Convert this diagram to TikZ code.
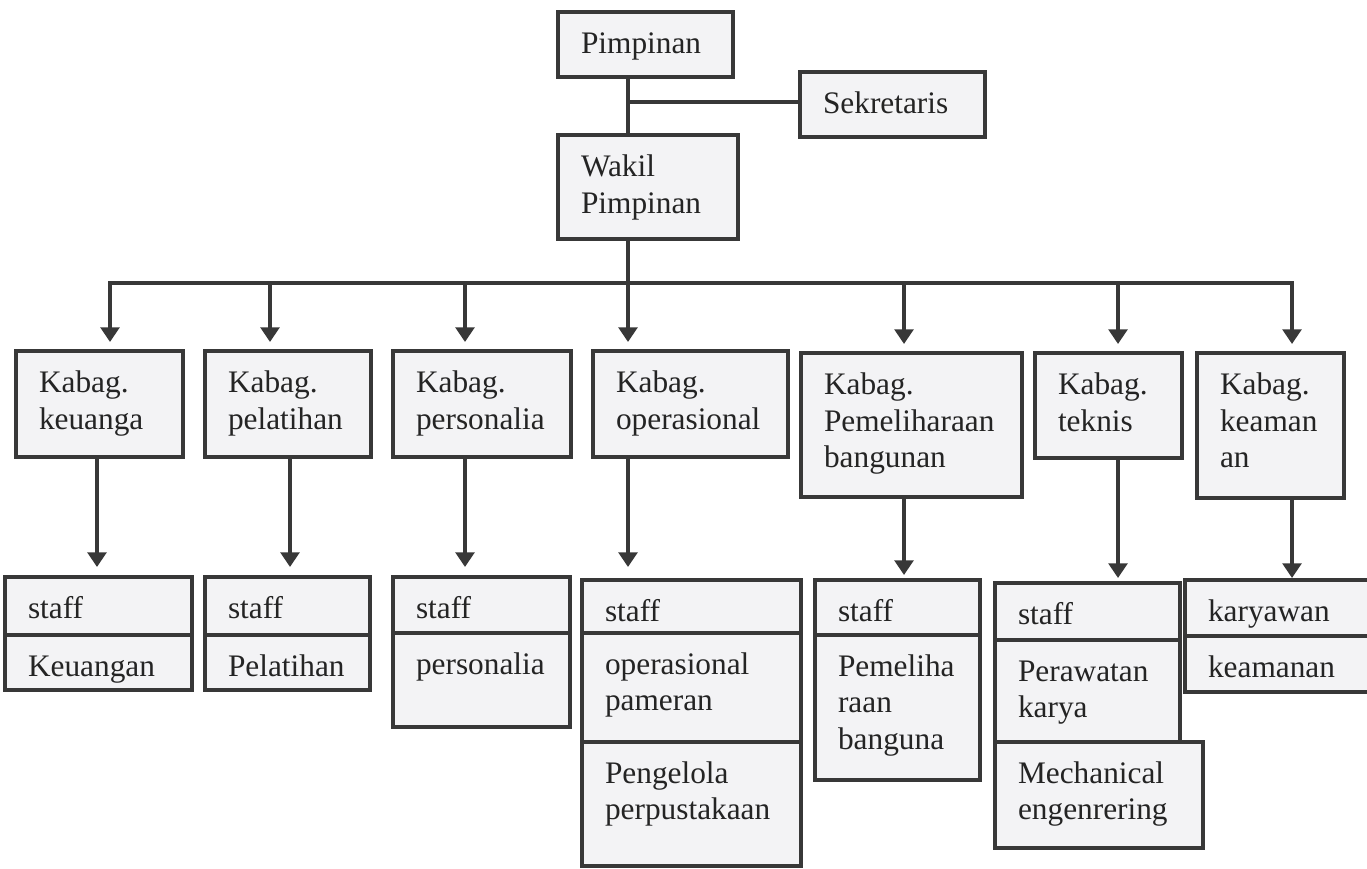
\documentclass[tikz,border=0pt]{standalone}
\usepackage{fontspec}
\setmainfont{Liberation Serif}
\usetikzlibrary{arrows.meta}
\definecolor{ink}{RGB}{56,56,56}
\definecolor{lettering}{RGB}{36,36,36}
\definecolor{paper}{RGB}{243,243,245}
\tikzset{
  cell/.style 2 args={
    /utils/exec={\pgfmathsetlengthmacro\cellw{(#1-46)*0.75pt}%
                 \pgfmathsetlengthmacro\celld{(#2-41.5)*0.75pt}},
    draw=ink, fill=paper, line width=3pt, anchor=north west,
    outer sep=0pt, inner xsep=17.25pt, inner ysep=0pt, text=lettering,
    align=left, text width=\cellw, text height=31.1pt, text depth=\celld,
    font=\fontsize{23.5}{27.4}\selectfont},
  link/.style={draw=ink, line width=3pt, line join=miter},
  arr/.style={link, -{Triangle[length=11pt,width=14pt]}}
}
\begin{document}
\begin{tikzpicture}[x=0.75pt,y=-0.75pt]
\useasboundingbox (0,0) rectangle (1367,868);

% top management
\node[cell={175}{65}]  (pim) at (558,12)  {Pimpinan};
\node[cell={185}{65}]  (sek) at (800,72)  {Sekretaris};
\node[cell={180}{104}] (wak) at (558,135) {Wakil\\Pimpinan};

% heads of department
\node[cell={167}{106}] (k1) at (16,351)   {Kabag.\\keuanga};
\node[cell={166}{106}] (k2) at (205,351)  {Kabag.\\pelatihan};
\node[cell={178}{106}] (k3) at (393,351)  {Kabag.\\personalia};
\node[cell={195}{106}] (k4) at (593,351)  {Kabag.\\operasional};
\node[cell={221}{144}] (k5) at (801,353)  {Kabag.\\Pemeliharaan\\bangunan};
\node[cell={147}{105}] (k6) at (1035,353) {Kabag.\\teknis};
\node[cell={147}{145}] (k7) at (1197,353) {Kabag.\\keaman\\an};

% staff stacks
\node[cell={187}{58}] (s1a) at (5,577) {staff};
\node[cell={187}{55}] (s1b) at (s1a.south west) {Keuangan};

\node[cell={165}{58}] (s2a) at (205,577) {staff};
\node[cell={165}{55}] (s2b) at (s2a.south west) {Pelatihan};

\node[cell={177}{56}] (s3a) at (393,577) {staff};
\node[cell={177}{94}] (s3b) at (s3a.south west) {personalia};

\node[cell={219}{53}]  (s4a) at (582,580) {staff};
\node[cell={219}{109}] (s4b) at (s4a.south west) {operasional\\pameran};
\node[cell={219}{124}] (s4c) at (s4b.south west) {Pengelola\\perpustakaan};

\node[cell={165}{55}]  (s5a) at (815,580) {staff};
\node[cell={165}{145}] (s5b) at (s5a.south west) {Pemeliha\\raan\\banguna};

\node[cell={185}{57}]  (s6a) at (995,583) {staff};
\node[cell={185}{102}] (s6b) at (s6a.south west) {Perawatan\\karya};
\node[cell={208}{106}] (s6c) at (s6b.south west) {Mechanical\\engenrering};

\node[cell={195}{56}] (s7a) at (1185,580) {karyawan};
\node[cell={195}{56}] (s7b) at (s7a.south west) {keamanan};

% trunk and secretary link
\coordinate (tx) at (628,0);
\coordinate (j)  at (628,102);
\draw[link] (pim.south -| tx) -- (wak.north -| tx);
\draw[link] (j) -- (j -| sek.west);

% distribution bus
\coordinate (busL) at (110,283);
\coordinate (busR) at (1292,283);
\coordinate (d2) at (270,283);
\coordinate (d3) at (465,283);
\coordinate (d4) at (628,283);
\coordinate (d5) at (904,283);
\coordinate (d6) at (1118,283);
\draw[link] (wak.south -| tx) -- (d4);
\draw[arr, shorten >=6.75pt] (d4) -- (busL) -- (busL |- k1.north);
\draw[arr, shorten >=6.75pt] (d4) -- (busR) -- (busR |- k7.north);
\draw[arr, shorten >=6.75pt] (d2) -- (d2 |- k2.north);
\draw[arr, shorten >=6.75pt] (d3) -- (d3 |- k3.north);
\draw[arr, shorten >=6.75pt] (d4) -- (d4 |- k4.north);
\draw[arr, shorten >=6.75pt] (d5) -- (d5 |- k5.north);
\draw[arr, shorten >=6.75pt] (d6) -- (d6 |- k6.north);

% department to staff
\coordinate (e1) at (97,0);
\coordinate (e2) at (290,0);
\coordinate (e3) at (465,0);
\coordinate (e4) at (628,0);
\coordinate (e5) at (904,0);
\coordinate (e6) at (1118,0);
\coordinate (e7) at (1292,0);
\draw[arr, shorten >=7.5pt]  (k1.south -| e1) -- (s1a.north -| e1);
\draw[arr, shorten >=7.5pt]  (k2.south -| e2) -- (s2a.north -| e2);
\draw[arr, shorten >=7.5pt]  (k3.south -| e3) -- (s3a.north -| e3);
\draw[arr, shorten >=9.75pt] (k4.south -| e4) -- (s4a.north -| e4);
\draw[arr, shorten >=3.75pt] (k5.south -| e5) -- (s5a.north -| e5);
\draw[arr, shorten >=3.75pt] (k6.south -| e6) -- (s6a.north -| e6);
\draw[arr, shorten >=1.5pt]  (k7.south -| e7) -- (s7a.north -| e7);
\end{tikzpicture}
\end{document}
